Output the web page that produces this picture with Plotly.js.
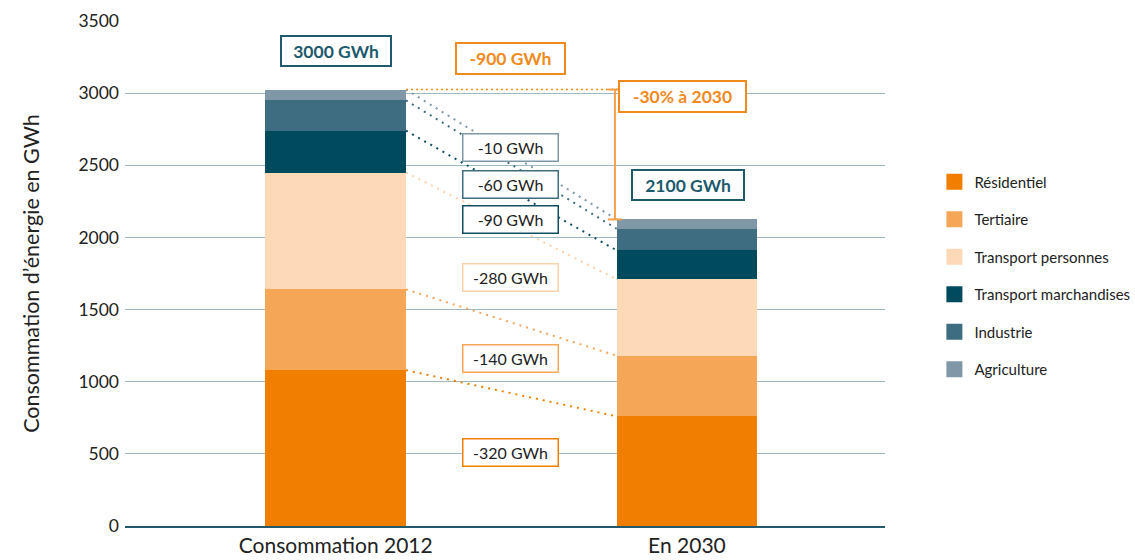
<!DOCTYPE html>
<html>
<head>
<meta charset="utf-8">
<script src="https://cdn.plot.ly/plotly-3.0.1.min.js"></script>
<style>html,body{margin:0;padding:0;background:#fff;}#chart{width:1135px;height:560px;}</style>
</head>
<body>
<div id="chart"></div>
<script>
// ---- Data ----
var categories = ["Consommation 2012", "En 2030"];
var seriesNames = ["Résidentiel", "Tertiaire", "Transport personnes", "Transport marchandises", "Industrie", "Agriculture"];
var values2012 = [1080, 560, 810, 290, 210, 75];
var values2030 = [760, 420, 530, 200, 150, 65];
var seriesColors = ["#f07f00", "#f5a657", "#fdd9b7", "#004a5e", "#3e6c80", "#7f97a6"];
var lineColors = ["#f07f00", "#f5a657", "#fcd2aa", "#0f4e62", "#3e6c80", "#7f97a6"];
var totalLabels = ["3000 GWh", "2100 GWh"];
var yTicks = [0, 500, 1000, 1500, 2000, 2500, 3000, 3500];

var FONT = "Lato, 'Open Sans', sans-serif";
var TEAL = "#1d5a6d";
var ORANGE = "#f08a1c";

var traces = [];
seriesNames.forEach(function (name, i) {
  traces.push({
    type: "bar",
    x: categories,
    y: [values2012[i], values2030[i]],
    name: name,
    width: 0.4,
    marker: { color: seriesColors[i], line: { width: 0 } },
    showlegend: false,
    hoverinfo: "y+name"
  });
});
// legend entries (square swatches)
seriesNames.forEach(function (name, i) {
  traces.push({
    type: "scatter",
    mode: "markers",
    x: [null], y: [null],
    name: name,
    legendgroup: "g" + i,
    marker: { symbol: "square", size: 17, color: seriesColors[i] },
    showlegend: true,
    hoverinfo: "skip"
  });
});

// cumulative tops
function cum(arr) { var s = 0; return arr.map(function (v) { s += v; return s; }); }
var c12 = cum(values2012), c30 = cum(values2030);
var half = 0.2;

var shapes = [];
for (var i = 0; i < seriesNames.length; i++) {
  shapes.push({
    type: "line", xref: "x", yref: "y",
    x0: 0 + half, y0: c12[i], x1: 1 - half, y1: c30[i],
    line: { color: lineColors[i], width: 2, dash: "2px,5px" }
  });
}
var tot12 = c12[c12.length - 1], tot30 = c30[c30.length - 1];
var bx = 0.795;
shapes.push({ type: "line", xref: "x", yref: "y", x0: half, y0: tot12, x1: bx + 0.02, y1: tot12,
  line: { color: ORANGE, width: 1.5, dash: "2px,3px" } });
shapes.push({ type: "line", xref: "x", yref: "y", x0: bx, y0: tot12, x1: bx, y1: tot30,
  line: { color: "#f4a04a", width: 2 } });
shapes.push({ type: "line", xref: "x", yref: "y", x0: bx - 0.02, y0: tot12, x1: bx + 0.02, y1: tot12,
  line: { color: "#f4a04a", width: 2 } });
shapes.push({ type: "line", xref: "x", yref: "y", x0: bx - 0.02, y0: tot30, x1: bx + 0.02, y1: tot30,
  line: { color: "#f4a04a", width: 2 } });

function box(text, x, y, w, h, border, color, bold, bw, size) {
  return {
    xref: "x", yref: "y", x: x, y: y, text: bold ? "<b>" + text + "</b>" : text,
    showarrow: false, bgcolor: "#ffffff", bordercolor: border, borderwidth: bw || 1.5,
    borderpad: 0, width: w, height: h, align: "center", valign: "middle",
    font: { family: FONT, size: size || 16, color: color }
  };
}
var diffTexts = seriesNames.map(function (n, i) { return "-" + (values2012[i] - values2030[i]) + " GWh"; });
var diffY = [507, 1160, 1719, 2125, 2368, 2622];
var annotations = [
  box(totalLabels[0], 0, 3292, 108, 28, TEAL, TEAL, true, 2, 17.5),
  box(totalLabels[1], 1.003, 2361, 110, 28, TEAL, TEAL, true, 2, 17.5),
  box("-" + (tot12 - tot30) + " GWh", 0.499, 3240, 107, 29, ORANGE, ORANGE, true, 2, 17.5),
  box("-30% à 2030", 0.986, 2976, 125, 29, ORANGE, ORANGE, true, 2, 17.5)
];
for (var j = 0; j < seriesNames.length; j++) {
  annotations.push(box(diffTexts[j], 0.499, diffY[j], 94, 26, lineColors[j], "#222222", false, 1.5, 16));
}

var layout = {
  width: 1135, height: 560,
  margin: { l: 125, r: 250, t: 21, b: 34, autoexpand: false },
  paper_bgcolor: "#ffffff", plot_bgcolor: "#ffffff",
  barmode: "stack",
  bargap: 0,
  font: { family: FONT, color: "#222222" },
  xaxis: {
    type: "category", categoryorder: "array", categoryarray: categories,
    range: [-0.60, 1.564], showgrid: false, zeroline: false,
    showline: true, linecolor: "#22596b", linewidth: 1.5,
    ticks: "", tickfont: { family: FONT, size: 21, color: "#222222" },
    fixedrange: true
  },
  yaxis: {
    range: [0, 3500], tickmode: "array", tickvals: yTicks, ticktext: yTicks.map(String),
    showgrid: true, gridcolor: "#9dbac4", gridwidth: 1, zeroline: false, showline: false,
    ticks: "", ticklabelstandoff: 5,
    tickfont: { family: FONT, size: 17.5, color: "#222222" },
    title: { text: "Consommation d’énergie en GWh", font: { family: FONT, size: 21.5, color: "#222222" }, standoff: 32 },
    fixedrange: true
  },
  legend: {
    x: 1.065, xanchor: "left", y: 0.714, yanchor: "top",
    traceorder: "grouped", tracegroupgap: 15,
    font: { family: FONT, size: 15, color: "#222222" },
    bgcolor: "rgba(0,0,0,0)", borderwidth: 0
  },
  shapes: shapes,
  annotations: annotations,
  showlegend: true
};

Plotly.newPlot("chart", traces, layout, { displayModeBar: false, staticPlot: true });
</script>
</body>
</html>
